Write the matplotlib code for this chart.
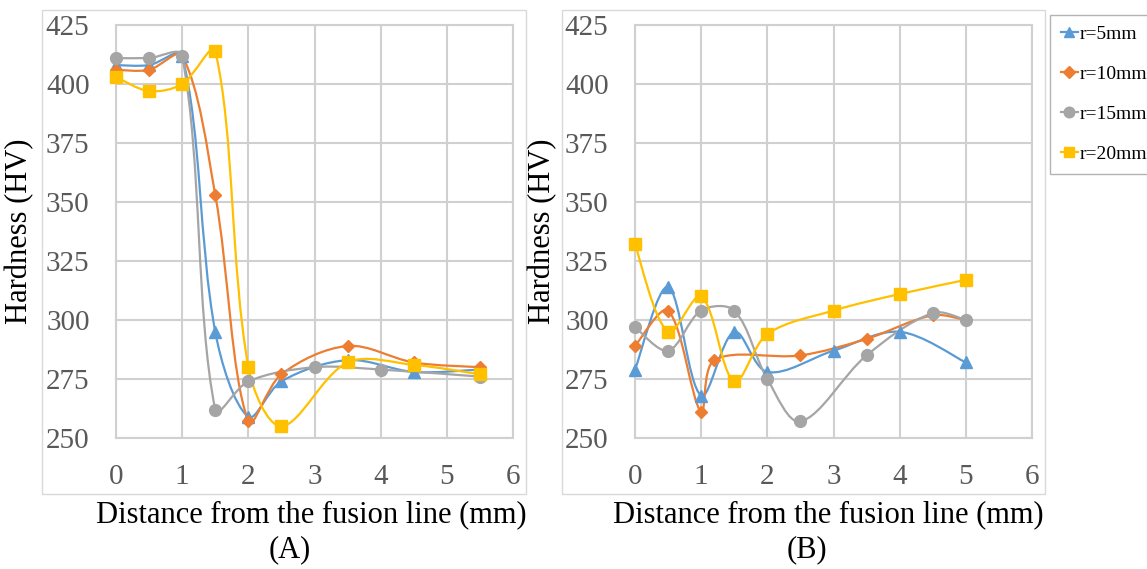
import matplotlib
matplotlib.use("Agg")
import matplotlib.pyplot as plt
import numpy as np
from matplotlib.path import Path
from matplotlib.patches import PathPatch, Rectangle
from matplotlib.lines import Line2D

# ---------------- data ----------------
labels = ["r=5mm", "r=10mm", "r=15mm", "r=20mm"]

# Panel A
a5_x = [0, 0.5, 1, 1.5, 2, 2.5, 3.5, 4.5, 5.5]
a5_y = [408, 408, 412, 295, 259, 274, 283, 278, 279]
a10_x = [0, 0.5, 1, 1.5, 2, 2.5, 3.5, 4.5, 5.5]
a10_y = [406, 406, 412, 353, 257, 277, 289, 282, 280]
a15_x = [0, 0.5, 1, 1.5, 2, 3, 4, 5.5]
a15_y = [411, 411, 412, 262, 274, 280, 279, 276]
a20_x = [0, 0.5, 1, 1.5, 2, 2.5, 3.5, 4.5, 5.5]
a20_y = [403, 397, 400, 414, 280, 255, 282, 281, 277]

# Panel B
b5_x = [0, 0.5, 1, 1.5, 2, 3, 4, 5]
b5_y = [279, 314, 268, 295, 278, 287, 295, 282]
b10_x = [0, 0.5, 1, 1.2, 2.5, 3.5, 4.5, 5]
b10_y = [289, 304, 261, 283, 285, 292, 302, 300]
b15_x = [0, 0.5, 1, 1.5, 2, 2.5, 3.5, 4.5, 5]
b15_y = [297, 287, 304, 304, 275, 257, 285, 303, 300]
b20_x = [0, 0.5, 1, 1.5, 2, 3, 4, 5]
b20_y = [332, 295, 310, 274, 294, 304, 311, 317]

x_ticks = [0, 1, 2, 3, 4, 5, 6]
y_ticks = [250, 275, 300, 325, 350, 375, 400, 425]

colors = ["#5B9BD5", "#ED7D31", "#A5A5A5", "#FFC000"]
markers = ["^", "D", "o", "s"]
msizes = [8, 6.5, 8.5, 8.5]

W, H = 1147, 569
plt.rcParams["font.family"] = ["Liberation Serif", "DejaVu Serif"]
fig = plt.figure(figsize=(W / 100, H / 100), dpi=100)


def smooth_path(ax, xs, ys):
    P = np.column_stack([xs, ys]).astype(float)
    S = ax.transData.transform(P)          # screen coords for chord lengths
    n = len(P)
    d = np.hypot(*(S[1:] - S[:-1]).T)      # screen chord lengths
    verts = [P[0]]
    codes = [Path.MOVETO]
    for i in range(n - 1):
        p1, p2 = P[i], P[i + 1]
        if i > 0:
            t1 = (P[i + 1] - P[i - 1]) * d[i] / (d[i - 1] + d[i]) / 3.0
        else:
            t1 = (P[1] - P[0]) / 6.0
        if i + 2 < n:
            t2 = (P[i + 2] - P[i]) * d[i] / (d[i] + d[i + 1]) / 3.0
        else:
            t2 = (P[i + 1] - P[i]) / 6.0
        verts += [p1 + t1, p2 - t2, p2]
        codes += [Path.CURVE4] * 3
    return Path(verts, codes)


def make_axes(rect_px, series):
    l, t, r, b = rect_px
    ax = fig.add_axes([l / W, 1 - b / H, (r - l) / W, (b - t) / H])
    ax.set_xlim(0, 6)
    ax.set_ylim(250, 425)
    ax.set_xticks(x_ticks)
    ax.set_yticks(y_ticks)
    ax.grid(True, color="#D0D0D0", linewidth=1.5)
    ax.set_axisbelow(True)
    for s in ax.spines.values():
        s.set_color("#D0D0D0")
        s.set_linewidth(1.5)
    ax.tick_params(length=0, labelsize=21, labelcolor="#595959", pad=19)
    for (xs, ys), c, m, ms in zip(series, colors, markers, msizes):
        ax.add_patch(PathPatch(smooth_path(ax, xs, ys), facecolor="none",
                               edgecolor=c, linewidth=1.6, zorder=3,
                               clip_on=False))
        ax.plot(xs, ys, linestyle="none", marker=m, markersize=ms,
                color=c, markeredgecolor=c, zorder=4, clip_on=False)
    return ax


axA = make_axes((116, 25, 513, 438),
                [(a5_x, a5_y), (a10_x, a10_y), (a15_x, a15_y), (a20_x, a20_y)])
axB = make_axes((635, 25, 1032, 438),
                [(b5_x, b5_y), (b10_x, b10_y), (b15_x, b15_y), (b20_x, b20_y)])

# chart-area boxes
for (l, t, r, b) in [(42, 10, 526, 494), (562, 10, 1045, 494)]:
    fig.patches.append(Rectangle((l / W, 1 - b / H), (r - l) / W, (b - t) / H,
                                 transform=fig.transFigure, fill=False,
                                 edgecolor="#D9D9D9", linewidth=1))

# axis labels
for xc in (20, 543):
    fig.text(xc / W, 1 - 231 / H, "Hardness (HV)", rotation=90,
             ha="center", va="center", fontsize=22)
for xc in (311, 828):
    fig.text(xc / W, 1 - 515 / H, "Distance from the fusion line (mm)",
             ha="center", va="center", fontsize=22)
fig.text(290 / W, 1 - 550 / H, "(A)", ha="center", va="center", fontsize=22)
fig.text(807 / W, 1 - 550 / H, "(B)", ha="center", va="center", fontsize=22)

# legend
handles = [Line2D([0], [0], color=c, marker=m, markersize=ms * 0.9, linewidth=1.6)
           for c, m, ms in zip(colors, markers, msizes)]
leg = fig.legend(handles, labels, loc="upper left",
                 bbox_to_anchor=(1050 / W, 1 - 15 / H), borderaxespad=0,
                 fontsize=14, handlelength=0.9, handletextpad=0.05,
                 labelspacing=1.15, borderpad=0.55, frameon=True, fancybox=False)
leg.get_frame().set_edgecolor("#A0A0A0")
leg.get_frame().set_linewidth(1)

fig.savefig("out.png", dpi=100)
